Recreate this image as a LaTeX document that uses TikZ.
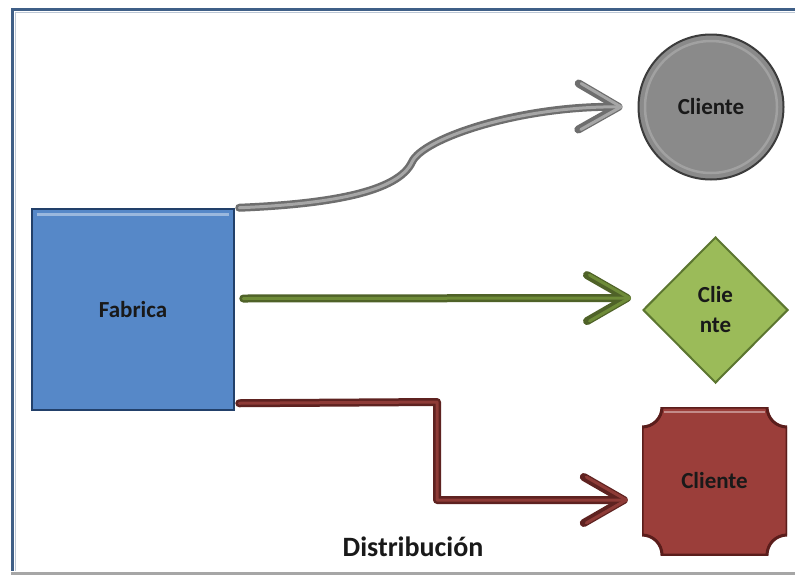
\documentclass[tikz,border=0pt]{standalone}
\usepackage{fontspec}
\setmainfont{Carlito}
\usetikzlibrary{arrows.meta,shapes.geometric,calc}

\definecolor{framecol}{HTML}{3F5F87}
\definecolor{fabfill}{HTML}{5688C8}
\definecolor{fabedge}{HTML}{22406A}
\definecolor{greyfill}{HTML}{8A8A8A}
\definecolor{greyedge}{HTML}{3C3C3C}
\definecolor{greenfill}{HTML}{9BBB59}
\definecolor{greenedge}{HTML}{5C7630}
\definecolor{redfill}{HTML}{9B3E3A}
\definecolor{rededge}{HTML}{5A1D1B}
\definecolor{greyline}{HTML}{6E6E6E}
\definecolor{greylight}{HTML}{A6A6A6}
\definecolor{greenline}{HTML}{4F6228}
\definecolor{greenlight}{HTML}{6E8B38}
\definecolor{redline}{HTML}{5E2220}
\definecolor{redlight}{HTML}{8E3B37}

\tikzset{
  label text/.style={font=\bfseries\fontsize{23}{30}\selectfont, text=black!90},
  fabbox/.style={rectangle, label text, fill=fabfill, draw=fabedge, line width=2.5pt,
    minimum width=202pt, minimum height=201pt, inner sep=0pt,
    path picture={\draw[fabfill!60!white, line width=3pt]
      ([shift={(5pt,-5pt)}]path picture bounding box.north west) --
      ([shift={(-5pt,-5pt)}]path picture bounding box.north east);}},
  roundclient/.style={circle, label text, fill=greyfill, draw=greyedge, line width=2pt,
    minimum size=145pt, inner sep=0pt,
    path picture={\draw[greyfill!80!white, line width=2.5pt]
      (path picture bounding box.center) circle[radius=66pt];}},
  diamondclient/.style={diamond, label text, fill=greenfill, draw=greenedge, line width=2pt,
    minimum width=145pt, minimum height=146pt, inner sep=0pt, align=center},
  plaqueclient/.style={rectangle, label text, minimum width=145pt, minimum height=148pt,
    inner sep=0pt,
    path picture={
      \coordinate (pnw) at (path picture bounding box.north west);
      \coordinate (pne) at (path picture bounding box.north east);
      \coordinate (psw) at (path picture bounding box.south west);
      \coordinate (pse) at (path picture bounding box.south east);
      \filldraw[fill=redfill, draw=rededge, line width=3pt]
        ([xshift=20pt]pnw) -- ([xshift=-20pt]pne)
        arc[start angle=180, end angle=270, radius=20pt]
        -- ([yshift=20pt]pse)
        arc[start angle=90, end angle=180, radius=20pt]
        -- ([xshift=20pt]psw)
        arc[start angle=0, end angle=90, radius=20pt]
        -- ([yshift=-20pt]pnw)
        arc[start angle=270, end angle=360, radius=20pt] -- cycle;
      \draw[redfill!60!white, line width=2pt]
        ([shift={(22pt,-5pt)}]pnw) -- ([shift={(-22pt,-5pt)}]pne);}},
  flow/.style={line width=8pt, line join=round, line cap=round,
    -{Straight Barb[length=40pt, width=46pt, round]}},
  greyflow/.style={flow, draw=greyline,
    postaction={draw=greylight, line width=3pt}},
  greenflow/.style={flow, draw=greenline,
    postaction={draw=greenlight, line width=3pt}},
  redflow/.style={flow, draw=redline,
    postaction={draw=redlight, line width=3pt}},
  caption text/.style={font=\bfseries\fontsize{28}{32}\selectfont, text=black!90}
}

\begin{document}
\begin{tikzpicture}[x=1pt, y=-1pt]
  \useasboundingbox (0,0) rectangle (795,576);
  \fill[white] (0,0) rectangle (795,576);

  % frame
  \draw[framecol, line width=3.5pt] (795,9.5) -- (12.5,9.5) -- (12.5,571);
  \draw[framecol!35!white, line width=1.5pt] (795,12.5) -- (15.5,12.5) -- (15.5,571);
  \draw[black!35, line width=3pt] (11,573.5) -- (795,573.5);

  % nodes
  \node[fabbox] (fab) at (133,309.5) {Fabrica};
  \node[roundclient] (c1) at (711,107) {Cliente};
  \node[diamondclient] (c2) at (715.5,310) {Clie\\nte};
  \node[plaqueclient] (c3) at (714.5,481) {Cliente};

  % connectors
  \draw[greyflow, shorten >=15pt]
    ($(fab.north east)+(4,0)$) .. controls (330,204) and (398,192) .. (412,162)
    .. controls (423,138) and (520,106) .. (c1.west);
  \draw[greenflow, shorten >=11pt]
    ($(fab.east)+(8,-11)$) -- ($(c2.west)+(0,-12)$);
  \draw[redflow, shorten >=14pt]
    ($(fab.south east)+(4,-8)$) -- (437,402) |- ($(c3.west)+(0,19)$);

  % caption
  \node[caption text] (cap) at (413,547) {Distribución};
\end{tikzpicture}
\end{document}
